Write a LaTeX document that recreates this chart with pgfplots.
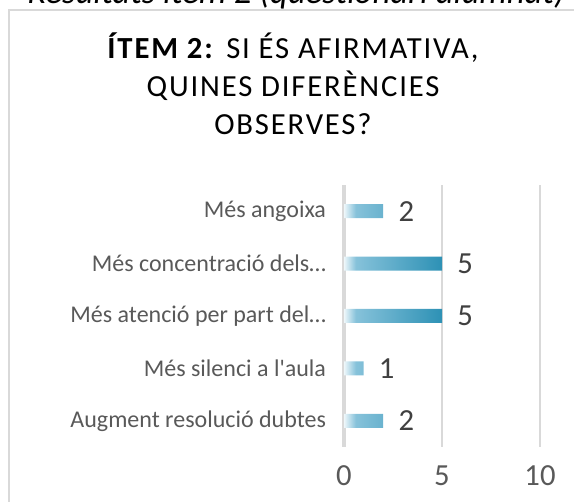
\documentclass[border=0pt]{standalone}
\usepackage{pgfplots}
\pgfplotsset{compat=1.18}
\usepackage{fontspec}
\setmainfont{Carlito}[Ligatures=TeXOff]
\definecolor{gridc}{HTML}{D9D9D9}
\definecolor{labc}{HTML}{595959}
\definecolor{datc}{HTML}{404040}
\definecolor{barA}{HTML}{EEF7FA}
\definecolor{barB}{HTML}{86C2DA}
\definecolor{barC}{HTML}{2D91B5}
\pgfdeclarehorizontalshading{barshade}{100bp}{color(0bp)=(barA); color(25bp)=(barA); color(31bp)=(barB); color(75bp)=(barC); color(100bp)=(barC)}
\newcommand\titlefont{\fontsize{23}{26}\selectfont\addfontfeature{LetterSpace=6}}
\begin{document}
\begin{tikzpicture}
\begin{scope}[x=0.75pt,y=0.75pt]
\clip (0,0) rectangle (574,502);
\path[use as bounding box] (0,0) rectangle (574,502);
\draw[gridc, line width=1.1pt] (9,-20) -- (9,492) -- (600,492);
\node[anchor=base west, inner sep=0pt, font=\fontsize{26}{30}\selectfont\itshape] at (27,498) {Resultats ítem 2 (qüestionari alumnat)};
\node[anchor=base, inner sep=0pt, font=\titlefont] at (293,443) {\textbf{ÍTEM 2:} SI ÉS AFIRMATIVA,};
\node[anchor=base, inner sep=0pt, font=\titlefont] at (293,405) {QUINES DIFERÈNCIES};
\node[anchor=base, inner sep=0pt, font=\titlefont] at (293,367) {OBSERVES?};
\end{scope}
\begin{axis}[
  at={(258pt,41.25pt)}, anchor=south west,
  scale only axis, width=147pt, height=196.5pt,
  xbar, bar width=10.5pt,
  xmin=0, xmax=10, ymin=0.5, ymax=5.5,
  xtick={0,5,10}, ytick={1,2,3,4,5},
  yticklabels={Augment resolució dubtes, Més silenci a l'aula, Més atenció per part del…, Més concentració dels…, Més angoixa},
  axis lines=left,
  axis line style={-},
  x axis line style={draw=none},
  y axis line style={draw=gridc, line width=3pt},
  xmajorgrids, grid style={draw=gridc, line width=1.3pt},
  major tick length=0pt,
  tick label style={text=labc},
  /pgf/number format/assume math mode=true,
  xticklabel style={font=\fontsize{23}{26}\selectfont, anchor=base, yshift=-29.25pt},
  yticklabel style={font=\fontsize{18}{21}\selectfont, anchor=east, xshift=-10pt},
  nodes near coords,
  nodes near coords style={font=\fontsize{23}{26}\selectfont, text=datc, anchor=west, xshift=8pt},
  clip=false,
]
\addplot[draw=none, shading=barshade] coordinates {(2,1) (1,2) (5,3) (5,4) (2,5)};
\end{axis}
\end{tikzpicture}
\end{document}
